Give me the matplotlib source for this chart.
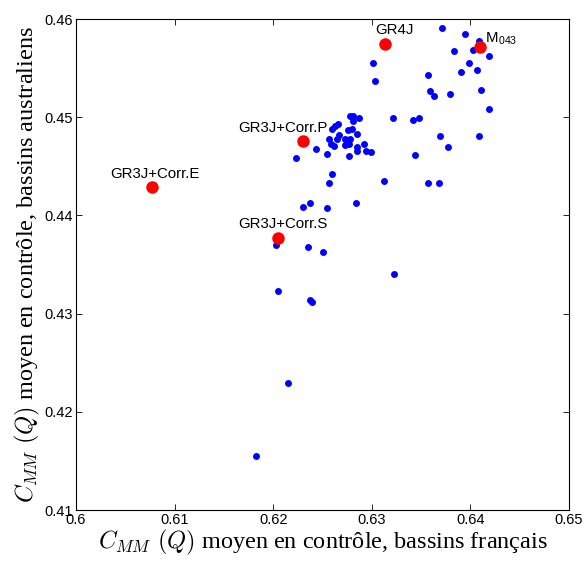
import matplotlib
matplotlib.use("Agg")
import matplotlib.pyplot as plt

plt.rcParams['mathtext.fontset'] = 'cm'

# basins: mean C_MM(Q) in control period, french (x) vs australian (y)
blue_x = [0.63709, 0.63945, 0.64090, 0.63834, 0.64029, 0.64186, 0.63015, 0.63983,
          0.63905, 0.64064, 0.63573, 0.63032, 0.63595, 0.63631, 0.63796, 0.64108,
          0.64186, 0.63215, 0.63421, 0.63474, 0.63695, 0.64090, 0.63768, 0.62924,
          0.62936, 0.62992, 0.63438, 0.63119, 0.63573, 0.63682, 0.62779, 0.62814,
          0.62809, 0.62873, 0.62660, 0.62627, 0.62591, 0.62759, 0.62794, 0.62662,
          0.62853, 0.62566, 0.62644, 0.62728, 0.62774, 0.62589, 0.62617, 0.62728,
          0.62769, 0.62847, 0.62850, 0.62764, 0.62543, 0.62434, 0.62226, 0.62599,
          0.62566, 0.62299, 0.62370, 0.62549, 0.62837, 0.62025, 0.62356, 0.62502,
          0.63225, 0.62046, 0.62373, 0.62394, 0.62147, 0.61823]
blue_y = [0.45911, 0.45847, 0.45776, 0.45671, 0.45684, 0.45626, 0.45549, 0.45549,
          0.45460, 0.45476, 0.45433, 0.45369, 0.45272, 0.45216, 0.45236, 0.45280,
          0.45084, 0.44992, 0.44969, 0.44992, 0.44812, 0.44812, 0.44702, 0.44724,
          0.44656, 0.44649, 0.44615, 0.44353, 0.44333, 0.44333, 0.45012, 0.45017,
          0.44966, 0.44997, 0.44936, 0.44910, 0.44880, 0.44875, 0.44877, 0.44821,
          0.44826, 0.44775, 0.44775, 0.44775, 0.44783, 0.44732, 0.44712, 0.44722,
          0.44724, 0.44700, 0.44656, 0.44605, 0.44628, 0.44678, 0.44587, 0.44419,
          0.44333, 0.44086, 0.44123, 0.44080, 0.44123, 0.43696, 0.43681, 0.43630,
          0.43400, 0.43230, 0.43139, 0.43115, 0.42290, 0.41553]

# reference models
model_names = ['GR4J', r'M$_{\mathregular{043}}$', 'GR3J+Corr.P', 'GR3J+Corr.E', 'GR3J+Corr.S']
model_x = [0.63134, 0.64102, 0.62299, 0.60771, 0.62052]
model_y = [0.45745, 0.45715, 0.44758, 0.44289, 0.43767]

fig = plt.figure(figsize=(5.87, 5.65), dpi=100)
ax = fig.add_axes([0.1295, 0.0973, 0.8399, 0.869])

ax.plot(blue_x, blue_y, 'o', color='#0000ff', markersize=5, markeredgewidth=0)
ax.plot(model_x, model_y, 'o', color='#ff0000', markersize=9, markeredgewidth=0)

# label placement (offset in points, alignment)
offsets = [(-7, 10, 'left', 'center'),
           (3, 0, 'left', 'bottom'),
           (18, 9.5, 'right', 'center'),
           (2, 9.5, 'center', 'center'),
           (3, 10, 'center', 'center')]
for name, x, y, (dx, dy, ha, va) in zip(model_names, model_x, model_y, offsets):
    ax.annotate(name, (x, y), xytext=(dx, dy), textcoords='offset points',
                ha=ha, va=va, fontsize=10.8, family='Liberation Sans')

ax.set_xlim(0.6, 0.65)
ax.set_ylim(0.41, 0.46)
ax.set_xticks([0.6, 0.61, 0.62, 0.63, 0.64, 0.65])
ax.set_xticklabels(['0.6', '0.61', '0.62', '0.63', '0.64', '0.65'])
ax.set_yticks([0.41, 0.42, 0.43, 0.44, 0.45, 0.46])
ax.set_yticklabels(['0.41', '0.42', '0.43', '0.44', '0.45', '0.46'])
ax.tick_params(direction='in', top=True, right=True, length=4, width=0.6,
               labelsize=10.5, pad=2)
for lab in ax.get_xticklabels() + ax.get_yticklabels():
    lab.set_family('Liberation Sans')
for s in ax.spines.values():
    s.set_linewidth(0.8)

ax.set_xlabel(r'$C_{MM}\ (Q)$ moyen en contrôle, bassins français',
              fontsize=17.5, family='Liberation Serif', labelpad=1)
ax.set_ylabel(r'$C_{MM}\ (Q)$ moyen en contrôle, bassins australiens',
              fontsize=17.5, family='Liberation Serif', labelpad=2)

fig.savefig('out.png', dpi=100)
